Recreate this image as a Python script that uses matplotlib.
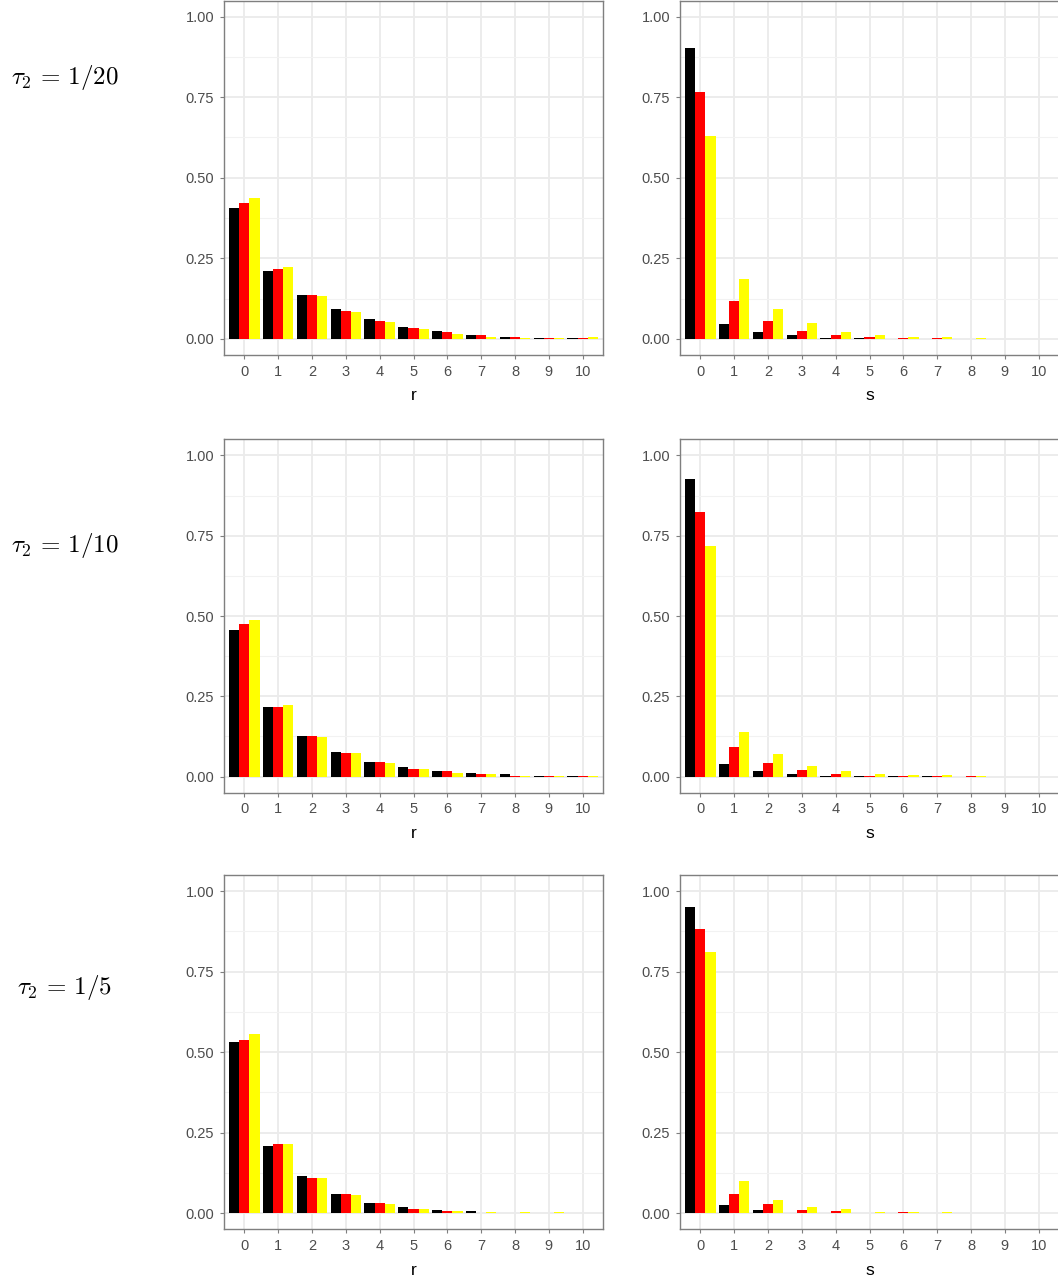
import numpy as np
import matplotlib
matplotlib.use("Agg")
import matplotlib.pyplot as plt

# categories on the x axis
counts = list(range(11))
tick_labels = [str(c) for c in counts]

# row labels (tau_2 values)
row_labels = [r"$\tau_2 \,=\, 1/20$", r"$\tau_2 \,=\, 1/10$", r"$\tau_2 \,=\, 1/5$"]

# left column: distribution of r, three series (black, red, yellow)
r_20_black = [0.406, 0.211, 0.136, 0.092, 0.061, 0.038, 0.026, 0.012, 0.007, 0.003, 0.003]
r_20_red = [0.421, 0.216, 0.136, 0.087, 0.056, 0.034, 0.022, 0.012, 0.007, 0.003, 0.003]
r_20_yellow = [0.438, 0.222, 0.134, 0.084, 0.052, 0.030, 0.016, 0.007, 0.004, 0.003, 0.005]

r_10_black = [0.456, 0.217, 0.128, 0.078, 0.047, 0.030, 0.017, 0.012, 0.007, 0.003, 0.003]
r_10_red = [0.474, 0.217, 0.128, 0.074, 0.047, 0.025, 0.017, 0.007, 0.003, 0.003, 0.003]
r_10_yellow = [0.487, 0.222, 0.124, 0.074, 0.043, 0.025, 0.012, 0.007, 0.003, 0.003, 0.001]

r_5_black = [0.531, 0.210, 0.114, 0.060, 0.033, 0.020, 0.011, 0.006, 0.002, 0.002, 0.001]
r_5_red = [0.539, 0.215, 0.108, 0.060, 0.033, 0.014, 0.006, 0.002, 0.002, 0.002, 0.001]
r_5_yellow = [0.555, 0.215, 0.108, 0.055, 0.028, 0.014, 0.006, 0.004, 0.003, 0.003, 0.001]

# right column: distribution of s
s_20_black = [0.902, 0.047, 0.022, 0.011, 0.004, 0.003, 0.001, 0.0005, 0.0, 0.0, 0.0]
s_20_red = [0.766, 0.118, 0.056, 0.025, 0.011, 0.007, 0.004, 0.004, 0.001, 0.0, 0.0]
s_20_yellow = [0.629, 0.186, 0.092, 0.048, 0.022, 0.012, 0.007, 0.005, 0.004, 0.001, 0.0]

s_10_black = [0.926, 0.038, 0.017, 0.007, 0.003, 0.002, 0.001, 0.0005, 0.0, 0.0, 0.0]
s_10_red = [0.825, 0.092, 0.043, 0.021, 0.007, 0.003, 0.003, 0.003, 0.001, 0.0, 0.0]
s_10_yellow = [0.717, 0.140, 0.069, 0.033, 0.017, 0.007, 0.004, 0.004, 0.001, 0.0, 0.0]

s_5_black = [0.952, 0.024, 0.011, 0.002, 0.002, 0.002, 0.0, 0.0, 0.0, 0.0, 0.0]
s_5_red = [0.882, 0.060, 0.028, 0.011, 0.006, 0.002, 0.003, 0.0, 0.0, 0.0, 0.0]
s_5_yellow = [0.810, 0.100, 0.041, 0.020, 0.012, 0.004, 0.004, 0.003, 0.0, 0.0, 0.0]

colors = ["black", "#FF0000", "#FFFF00"]

panels = [
    [("r", [r_20_black, r_20_red, r_20_yellow]), ("s", [s_20_black, s_20_red, s_20_yellow])],
    [("r", [r_10_black, r_10_red, r_10_yellow]), ("s", [s_10_black, s_10_red, s_10_yellow])],
    [("r", [r_5_black, r_5_red, r_5_yellow]), ("s", [s_5_black, s_5_red, s_5_yellow])],
]

W, H = 1058, 1283
fig = plt.figure(figsize=(W / 100, H / 100), dpi=100)
plt.rcParams['mathtext.fontset'] = 'cm'

# pixel boxes (top, bottom) of each row, (left) of each column
row_px = [(0.5, 355), (439.3, 792.7), (875, 1229.3)]
col_px = [224, 680]
panel_w = 379
label_y = [77, 546, 988]


def style_panel(ax, xlabel):
    ax.set_xlim(-0.6, 10.6)
    ax.set_ylim(-0.05, 1.05)
    ax.set_xticks(counts)
    ax.set_xticklabels(tick_labels)
    ax.set_yticks([0, 0.25, 0.5, 0.75, 1.0])
    ax.set_yticklabels(["0.00", "0.25", "0.50", "0.75", "1.00"])
    ax.set_yticks([0.125, 0.375, 0.625, 0.875], minor=True)
    ax.grid(which="major", color="#EBEBEB", linewidth=1.3, zorder=0)
    ax.grid(which="minor", axis="y", color="#F2F2F2", linewidth=0.8, zorder=0)
    ax.set_axisbelow(True)
    for sp in ax.spines.values():
        sp.set_color("#7F7F7F")
        sp.set_linewidth(1.0)
    ax.tick_params(which="major", length=3, width=0.8, color="#7F7F7F",
                   labelsize=10.5, labelcolor="#4D4D4D", pad=4)
    ax.tick_params(which="minor", length=0)
    for lab in ax.get_xticklabels() + ax.get_yticklabels():
        lab.set_fontfamily("Liberation Sans")
    ax.set_xlabel(xlabel, fontsize=12.5, fontfamily="Liberation Sans", labelpad=7)


bw = 0.3
x = np.arange(len(counts))
for i, row in enumerate(panels):
    top, bot = row_px[i]
    for j, (xlabel, series) in enumerate(row):
        ax = fig.add_axes([col_px[j] / W, 1 - bot / H, panel_w / W, (bot - top) / H])
        for k, vals in enumerate(series):
            ax.bar(x + (k - 1) * bw, vals, width=bw, color=colors[k], linewidth=0, zorder=3)
        style_panel(ax, xlabel)
    fig.text(65 / W, 1 - label_y[i] / H, row_labels[i], fontsize=18,
             ha="center", va="center")

fig.savefig("out.png", dpi=100)
